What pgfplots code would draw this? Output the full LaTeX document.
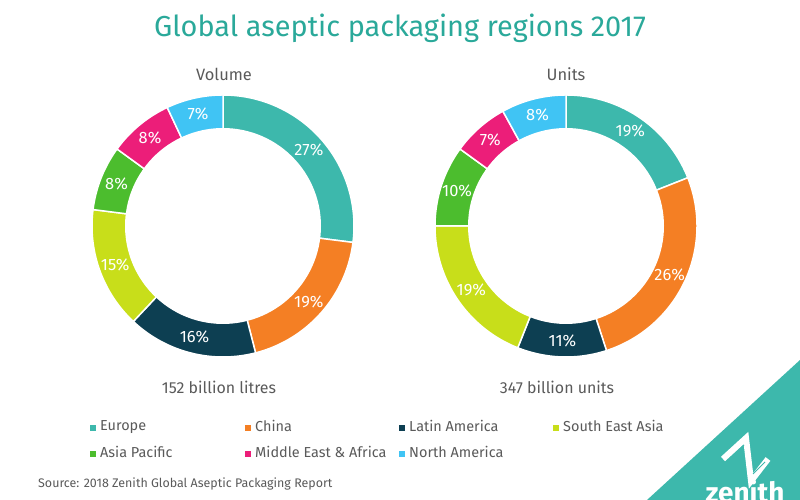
\documentclass[border=0pt]{standalone}
\usepackage{pgfplots}
\pgfplotsset{compat=1.18}
\usepackage{pgfplotstable}
\usepackage{fontspec}
\setmainfont{Fira Sans}
\definecolor{cEU}{HTML}{3DB8AC}
\definecolor{cCN}{HTML}{F47F24}
\definecolor{cLA}{HTML}{0D3F52}
\definecolor{cSEA}{HTML}{C8DE1A}
\definecolor{cAP}{HTML}{4CBD2E}
\definecolor{cME}{HTML}{EC1E79}
\definecolor{cNA}{HTML}{40C4F4}
\definecolor{titlec}{HTML}{2AA99A}
\definecolor{txt}{HTML}{5A5A5A}
\newcommand{\fs}[1]{\fontsize{#1}{#1}\selectfont}
% Volume: Europe 27, China 19, Latin America 16, SE Asia 15, Asia Pacific 8, ME&A 8, N America 7
% Units:  Europe 19, China 26, Latin America 11, SE Asia 19, Asia Pacific 10, ME&A 7, N America 8
\pgfplotstableread{
ang r lab
41.4 114.5 27
-41.4 114.5 19
-104.4 114.5 16
-160.2 114.5 15
-201.6 114.5 8
-230.4 114.5 8
-257.4 114.5 7
}\volLabels
\pgfplotstableread{
ang r lab
55.8 114.5 19
-25.2 114.5 26
-91.8 114.5 11
-145.8 114.5 19
-198 114.5 10
-228.6 114.5 7
-255.6 114.5 8
}\unitLabels
\pgfplotsset{
  donut/.style={at={(#1)}, anchor=center, scale only axis, width=270bp, height=270bp,
    xmin=-135, xmax=135, ymin=-135, ymax=135, hide axis, clip=false},
  seg/.style={fill=#1, draw=white, line width=1.5pt, data cs=polar, samples=90},
  lab/.style={data cs=polar, draw=none, mark=none,
    nodes near coords={\pgfplotspointmeta\%}, point meta=explicit symbolic,
    every node near coord/.append style={text=white, font=\fs{16.5}, anchor=center}}
}
\begin{document}
\begin{tikzpicture}[x=1bp, y=1bp]
\path[use as bounding box] (0,0) rectangle (800,500);
\fill[white] (0,0) rectangle (800,500);
\node[text=titlec, font=\fs{29}] at (400,472) {Global aseptic packaging regions 2017};
\node[text=txt, font=\fs{16.5}] at (224,426) {Volume};
\node[text=txt, font=\fs{16.5}] at (566,426) {Units};
\node[text=txt, font=\fs{16}] at (219,113) {152 billion litres};
\node[text=txt, font=\fs{16}] at (557,113) {347 billion units};

\begin{axis}[donut={223,274}]
\addplot[seg=cEU, domain=-7.2:90] ({x},{131}) -- (axis cs:0,0) -- cycle;
\addplot[seg=cCN, domain=-75.6:-7.2] ({x},{131}) -- (axis cs:0,0) -- cycle;
\addplot[seg=cLA, domain=-133.2:-75.6] ({x},{131}) -- (axis cs:0,0) -- cycle;
\addplot[seg=cSEA, domain=-187.2:-133.2] ({x},{131}) -- (axis cs:0,0) -- cycle;
\addplot[seg=cAP, domain=-216:-187.2] ({x},{131}) -- (axis cs:0,0) -- cycle;
\addplot[seg=cME, domain=-244.8:-216] ({x},{131}) -- (axis cs:0,0) -- cycle;
\addplot[seg=cNA, domain=-270:-244.8] ({x},{131}) -- (axis cs:0,0) -- cycle;
\addplot[fill=white, draw=none, data cs=polar, domain=0:360, samples=120] ({x},{98}) -- cycle;
\addplot[lab] table[x=ang, y=r, meta=lab] {\volLabels};
\end{axis}

\begin{axis}[donut={566,274}]
\addplot[seg=cEU, domain=21.6:90] ({x},{131}) -- (axis cs:0,0) -- cycle;
\addplot[seg=cCN, domain=-72:21.6] ({x},{131}) -- (axis cs:0,0) -- cycle;
\addplot[seg=cLA, domain=-111.6:-72] ({x},{131}) -- (axis cs:0,0) -- cycle;
\addplot[seg=cSEA, domain=-180:-111.6] ({x},{131}) -- (axis cs:0,0) -- cycle;
\addplot[seg=cAP, domain=-216:-180] ({x},{131}) -- (axis cs:0,0) -- cycle;
\addplot[seg=cME, domain=-241.2:-216] ({x},{131}) -- (axis cs:0,0) -- cycle;
\addplot[seg=cNA, domain=-270:-241.2] ({x},{131}) -- (axis cs:0,0) -- cycle;
\addplot[fill=white, draw=none, data cs=polar, domain=0:360, samples=120] ({x},{98}) -- cycle;
\addplot[lab] table[x=ang, y=r, meta=lab] {\unitLabels};
\end{axis}

% legend
\foreach \c/\t/\x/\y in {cEU/Europe/93/72, cCN/China/248/72, cLA/Latin America/402/72, cSEA/South East Asia/556/72,
  cAP/Asia Pacific/93/46, cME/Middle East \& Africa/248/46, cNA/North America/402/46}{
  \fill[\c] (\x-3,\y-3) rectangle (\x+3,\y+3);
  \node[anchor=west, text=txt, font=\fs{14.5}, inner sep=0pt] at (\x+7,\y) {\strut\t};
}
\node[anchor=west, text=txt, font=\fs{12.5}, inner sep=0pt] at (38,16) {Source: 2018 Zenith Global Aseptic Packaging Report};

% logo
\begin{scope}
\clip (0,0) rectangle (800,500);
\fill[cEU] (800,140) -- (800,0) -- (647,0) -- cycle;
\draw[white, line width=6bp, line join=miter] (723,41) -- (746,62) -- (751,19) -- (768,41);
\draw[cEU, line width=0.8bp] (726,38) -- (744,55);
\draw[cEU, line width=0.8bp] (753,26) -- (765,38);
\node[anchor=base, text=white, font=\bfseries\fs{28}, inner sep=0pt] at (745,-3) {zenith};
\end{scope}
\end{tikzpicture}
\end{document}
